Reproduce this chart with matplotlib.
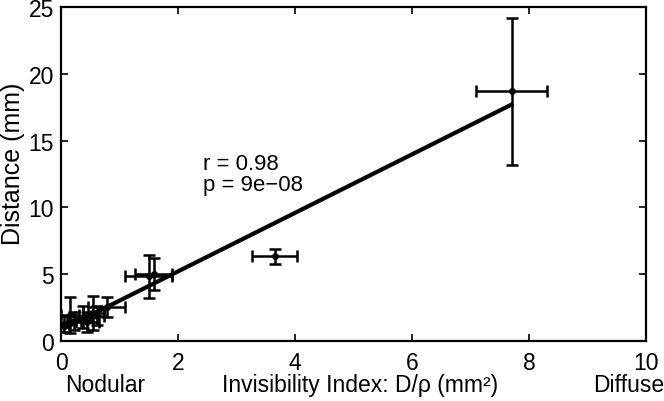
import matplotlib
matplotlib.use("Agg")
import matplotlib.pyplot as plt

plt.rcParams['font.family'] = ['Liberation Sans', 'DejaVu Sans']

# invisibility index (x) vs distance (y), with error bars
x = [0.05, 0.15, 0.22, 0.38, 0.45, 0.55, 0.62, 0.78, 1.50, 1.58, 3.65, 7.70]
y = [1.30, 1.95, 1.50, 1.80, 1.40, 2.10, 1.90, 2.55, 4.85, 5.00, 6.35, 18.70]
xerr = [0.08, 0.15, 0.12, 0.15, 0.20, 0.18, 0.12, 0.32, 0.40, 0.32, 0.38, 0.60]
yerr = [0.60, 1.35, 0.70, 0.80, 0.75, 1.30, 0.70, 0.75, 1.60, 1.20, 0.55, 5.50]

# fitted line endpoints
fit_x = [0.05, 7.70]
fit_y = [0.95, 17.70]

fig = plt.figure(figsize=(6.64, 4.02), dpi=100)
ax = fig.add_axes([0.092, 0.149, 0.881, 0.831])

ax.plot(fit_x, fit_y, color='black', lw=3, zorder=3)
ax.errorbar(x, y, xerr=xerr, yerr=yerr, fmt='o', color='black', ms=4,
            elinewidth=1.8, capsize=4, capthick=1.8, zorder=4)

ax.text(2.43, 12.9, 'r = 0.98', fontsize=16)
ax.text(2.43, 11.3, 'p = 9e\u221208', fontsize=16)

ax.set_xlim(0, 10)
ax.set_ylim(0, 25)
ax.set_xticks([0, 2, 4, 6, 8, 10])
ax.set_yticks([0, 5, 10, 15, 20, 25])
ax.tick_params(direction='in', top=True, right=True, labelsize=16.5, length=5, width=1.2)
ax.tick_params(axis='x', pad=7)
ax.tick_params(axis='y', pad=5)
for s in ax.spines.values():
    s.set_linewidth(1.6)

fig.text(0.019, 0.592, 'Distance (mm)', fontsize=18, rotation=90, ha='center', va='center')
fig.text(0.158, 0.04, 'Nodular', fontsize=16.5, ha='center', va='center')
fig.text(0.542, 0.04, 'Invisibility Index: D/\u03c1 (mm\u00b2)', fontsize=16.5, ha='center', va='center')
fig.text(1.0, 0.04, 'Diffuse', fontsize=16.5, ha='right', va='center')

fig.savefig('out.png', dpi=100)
